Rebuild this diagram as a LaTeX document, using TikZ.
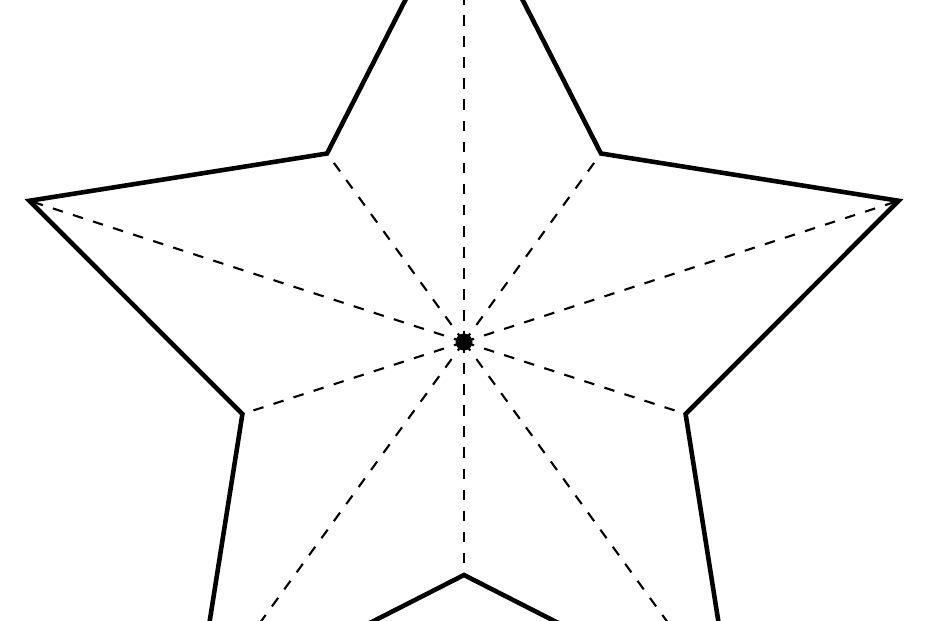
\documentclass[tikz,border=0pt]{standalone}
\usepackage{tikz}
\usetikzlibrary{calc}

\begin{document}
\begin{tikzpicture}
	\newcommand\rout{4.57}
	\newcommand\rin{2.33}
	\tikzset{rim/.style={line width=1.3pt},
		crease/.style={dashed,line width=0.6pt}}

	\useasboundingbox (0,0) rectangle (9.3,6.2);
	\clip (0,0) rectangle (9.3,6.2);
	\coordinate (c) at (4.64,2.78);

	% points of the star
	\foreach \i in {0,...,4}{
		\coordinate (o\i) at ($(c)+({90+72*\i}:\rout)$);
		\coordinate (n\i) at ($(c)+({126+72*\i}:\rin)$);
	}

	% folds
	\foreach \i in {0,...,4}{
		\draw[crease] (c) -- (o\i);
		\draw[crease] (c) -- (n\i);
	}

	\draw[rim] (o0) -- (n0) -- (o1) -- (n1) -- (o2) -- (n2) -- (o3) -- (n3) -- (o4) -- (n4) -- cycle;
	\fill (c) circle (0.085);
\end{tikzpicture}
\end{document}
